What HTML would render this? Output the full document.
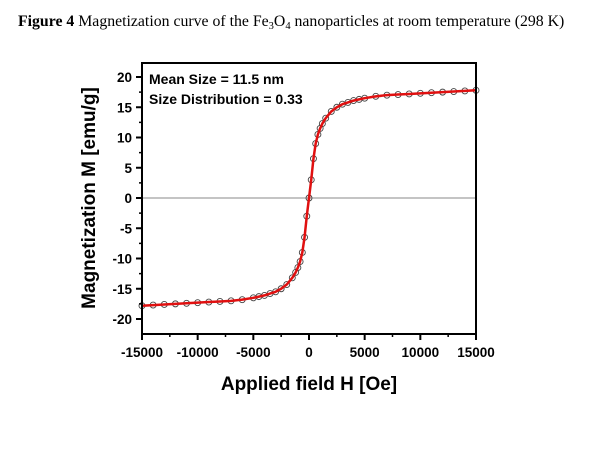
<!DOCTYPE html>
<html><head><meta charset="utf-8"><style>
body{margin:0;background:#fff;width:600px;height:445px;overflow:hidden}
</style></head><body>
<svg width="600" height="445" font-family="Liberation Sans, sans-serif">
<text x="18" y="26" font-family="Liberation Serif, serif" font-size="15.8"><tspan font-weight="bold">Figure 4</tspan> Magnetization curve of the Fe<tspan font-size="10.5" dy="3">3</tspan><tspan dy="-3">O</tspan><tspan font-size="10.5" dy="3">4</tspan><tspan dy="-3"> nanoparticles at room temperature (298 K)</tspan></text>
<g id="plot"></g>
</svg>
<script>
const hPos=[0,200,400,600,800,1000,1200,1500,2000,2500,3000,3500,4000,4500,5000,6000,7000,8000,9000,10000,11000,12000,13000,14000,15000];
const mPos=[0,3,6.5,9,10.5,11.5,12.3,13.2,14.3,15,15.5,15.8,16.1,16.3,16.5,16.8,17,17.1,17.2,17.3,17.4,17.5,17.6,17.7,17.8];
const xTicks=[-15000,-10000,-5000,0,5000,10000,15000];
const yTicks=[20,15,10,5,0,-5,-10,-15,-20];
const NS='http://www.w3.org/2000/svg';
const L=142,R=476,T=63,B=334;
const xs=v=>L+(v+15000)/30000*(R-L);
const ys=v=>198-v*6.05;
const g=document.getElementById('plot');
function el(t,a,p){const e=document.createElementNS(NS,t);for(const k in a)e.setAttribute(k,a[k]);(p||g).appendChild(e);return e;}
const z=el('line',{x1:L,x2:R,y1:ys(0),y2:ys(0),stroke:'#888','stroke-width':1});


const H=[],M=[];
for(let i=hPos.length-1;i>0;i--){H.push(-hPos[i]);M.push(-mPos[i]);}
for(let i=0;i<hPos.length;i++){H.push(hPos[i]);M.push(mPos[i]);}
H.forEach((h,i)=>{const c=el('circle',{cx:xs(h),cy:ys(M[i]),r:3,fill:'none',stroke:'#444','stroke-width':0.9});

});
const p=el('path',{d:H.map((h,i)=>(i?'L':'M')+xs(h)+' '+ys(M[i])).join(''),fill:'none',stroke:'#e01010','stroke-width':2.5,'stroke-linejoin':'round'});


const f=el('rect',{x:L,y:T,width:R-L,height:B-T,fill:'none',stroke:'#000','stroke-width':2});


xTicks.forEach((v,i)=>{el('line',{x1:xs(v),x2:xs(v),y1:B,y2:B+6,stroke:'#000','stroke-width':2});
if(i<xTicks.length-1)el('line',{x1:xs(v+2500),x2:xs(v+2500),y1:B,y2:B+3,stroke:'#000','stroke-width':1.5});
const t=el('text',{x:xs(v),y:B+23,'text-anchor':'middle','font-size':13.5,'font-weight':'bold'});t.textContent=v;

});
yTicks.forEach((v,i)=>{el('line',{x1:L-6,x2:L,y1:ys(v),y2:ys(v),stroke:'#000','stroke-width':2});
if(i<yTicks.length-1)el('line',{x1:L-3,x2:L,y1:ys(v-2.5),y2:ys(v-2.5),stroke:'#000','stroke-width':1.5});
const t=el('text',{x:L-10,y:ys(v)+5,'text-anchor':'end','font-size':13.5,'font-weight':'bold'});t.textContent=v;

});
const xl=el('text',{x:(L+R)/2,y:390,'text-anchor':'middle','font-size':19,'font-weight':'bold'});xl.textContent='Applied field H [Oe]';


const yl=el('text',{x:0,y:0,'text-anchor':'middle','font-size':19,'font-weight':'bold',transform:'translate(95,198) rotate(-90)'});yl.textContent='Magnetization M [emu/g]';


const a1=el('text',{x:149,y:84,'font-size':14,'font-weight':'bold'});a1.textContent='Mean Size = 11.5 nm';


const a2=el('text',{x:149,y:104,'font-size':14,'font-weight':'bold'});a2.textContent='Size Distribution = 0.33';


</script>
</body></html>
